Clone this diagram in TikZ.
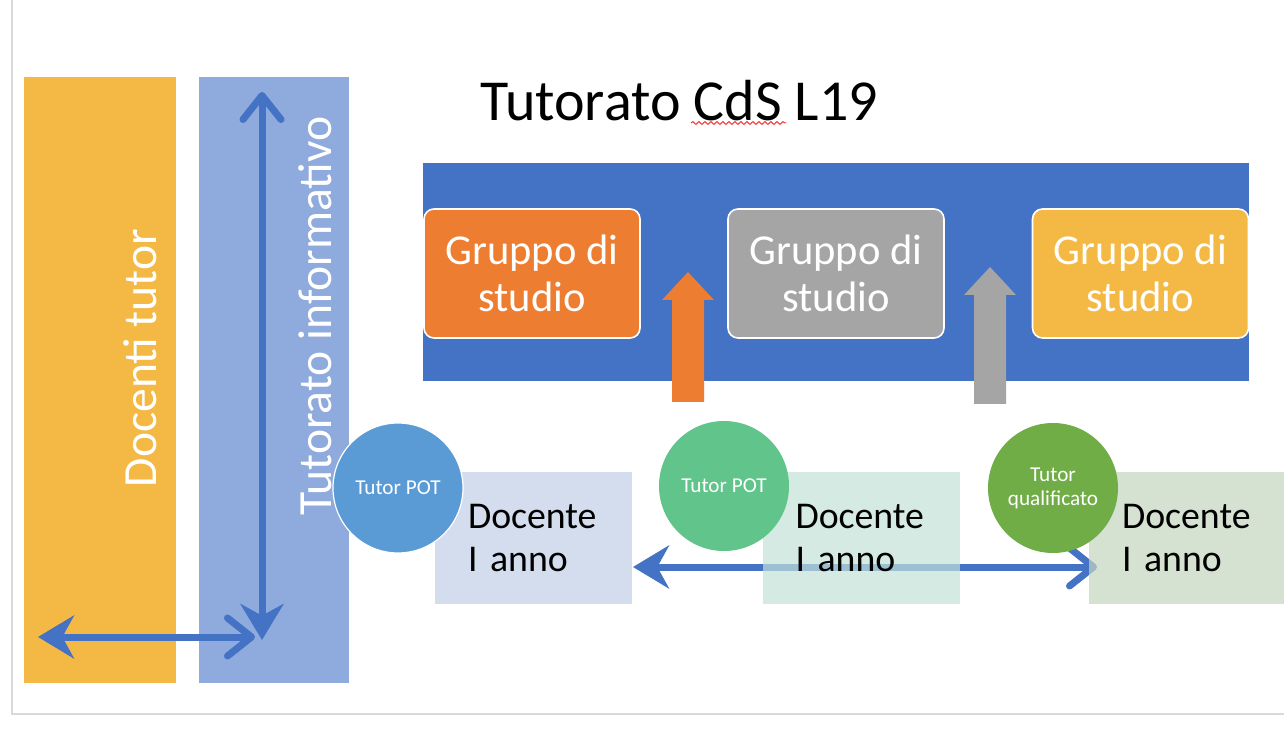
\documentclass[tikz,border=0pt]{standalone}
\usepackage{fontspec}
\setmainfont{Carlito}
\usetikzlibrary{arrows.meta,positioning,decorations.pathmorphing}
\definecolor{tutCol}{RGB}{244,185,69}
\definecolor{infCol}{RGB}{143,170,220}
\definecolor{bluCol}{RGB}{68,114,196}
\definecolor{orgCol}{RGB}{237,125,49}
\definecolor{gryCol}{RGB}{165,165,165}
\definecolor{potCol}{RGB}{91,155,213}
\definecolor{pot2Col}{RGB}{96,196,139}
\definecolor{quaCol}{RGB}{112,173,71}
\definecolor{docA}{RGB}{212,221,238}
\definecolor{docB}{RGB}{194,226,215}
\definecolor{docC}{RGB}{196,215,192}
\definecolor{frameCol}{RGB}{217,217,217}
\tikzset{
  bar/.style={minimum width=75pt,minimum height=303pt,inner sep=0pt},
  barlab/.style={text=white,rotate=90,inner sep=0pt,font=\fontsize{23.8}{28}\selectfont},
  gruppo/.style={draw=white,line width=0.8pt,rounded corners=5pt,minimum width=108pt,
                 minimum height=64.5pt,text=white,align=center,
                 font=\fontsize{21.3}{23.5}\selectfont},
  docente/.style={minimum width=98.5pt,minimum height=66pt,inner xsep=16.5pt,
                  text width=65.5pt,align=left,font=\fontsize{18.9}{21.5}\selectfont},
  tutor/.style={circle,minimum size=65pt,inner sep=0pt,text=white,align=center,
                font=\fontsize{10.6}{12}\selectfont},
  link/.style={bluCol,line width=3.5pt,
               {Stealth[length=18pt,width=21.5pt]}-{Straight Barb[round,length=12pt,width=19pt]}},
}

\begin{document}
\begin{tikzpicture}[x=0.5pt,y=-0.5pt]
    \useasboundingbox[fill=white] (0,0) rectangle (1284,731);
    \clip (0,0) rectangle (1284,731);
    \draw[frameCol,line width=1pt] (12,0) -- (12,714) -- (1284,714);
    % --- left bars ---
    \node[bar,fill=tutCol,minimum width=76pt] (tut) at (100,380) {};
    \node[barlab] (tutlab) at (140,358) {Docenti tutor};
    \node[bar,fill=infCol] (inf) at (274,380) {};
    \node[barlab] (inflab) at (315,316) {Tutorato informativo};
    \coordinate (vbot) at (262,640);
    \coordinate (vtop) at (262,92);
    \coordinate (hl) at (38,637);
    \coordinate (hr) at (255,637);
    \draw[link] (vbot) -- (vtop);
    \draw[link] (hl) -- (hr);
    % --- title ---
    \node[anchor=west,inner sep=0pt,font=\fontsize{29}{32}\selectfont] (title) at (480,101)
        {Tutorato CdS L19};
    \draw[red!80,line width=0.5pt,decorate,decoration={snake,amplitude=0.7pt,segment length=3pt}]
        (691,123) -- (786,123);
    % --- study groups ---
    \node[fill=bluCol,minimum width=413pt,minimum height=109pt,inner sep=0pt] (band) at (836,272) {};
    \node[gruppo,fill=orgCol] (gA) at (532,273.5) {Gruppo di\\studio};
    \node[gruppo,fill=gryCol] (gB) at (836,273.5) {Gruppo di\\studio};
    \node[gruppo,fill=tutCol] (gC) at (1140.5,273.5) {Gruppo di\\studio};
    \fill[orgCol] (672,402) -- (672,300) -- (662,300) -- (688,272) -- (714,300) -- (704,300)
        -- (704,402) -- cycle;
    \fill[gryCol] (974,404) -- (974,295) -- (964,295) -- (990,267) -- (1016,295) -- (1006,295)
        -- (1006,404) -- cycle;
    % --- first year ---
    \coordinate (dl) at (633,567);
    \coordinate (dr) at (1097,567);
    \draw[link] (dl) -- (dr);
    \node[docente,fill=docA] (dA) at (533.5,538) {Docente\\I anno};
    \node[docente,fill=docB,fill opacity=0.7,text opacity=1] (dB) at (861,538) {Docente\\I anno};
    \node[docente,fill=docC,fill opacity=0.7,text opacity=1] (dC) at (1187.5,538) {Docente\\I anno};
    \node[tutor,fill=potCol,draw=white,line width=0.6pt] (tA) at (398,488) {Tutor POT};
    \node[tutor,fill=pot2Col] (tB) at (724,486) {Tutor POT};
    \node[tutor,fill=quaCol] (tC) at (1053,488) {Tutor\\qualificato};
\end{tikzpicture}
\end{document}
